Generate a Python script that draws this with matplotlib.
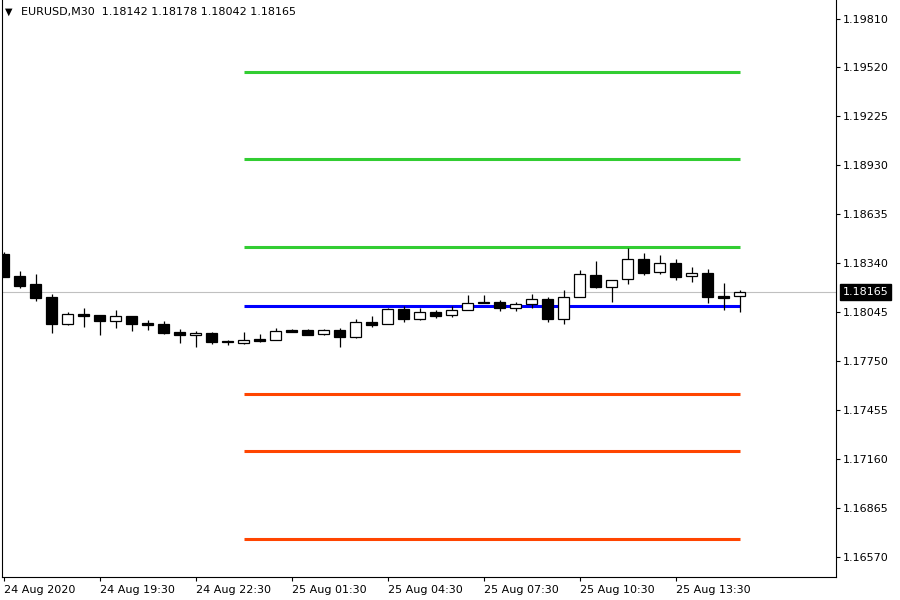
import matplotlib
matplotlib.use('Agg')
import matplotlib.pyplot as plt
import numpy as np

# EURUSD M30 bars, 24 Aug 2020 16:30 onward
opens = [1.18394, 1.18262, 1.18213, 1.18135, 1.17973, 1.18033, 1.18027, 1.17991,
         1.18021, 1.17979, 1.17973, 1.17924, 1.17906, 1.17918, 1.17870, 1.17861,
         1.17882, 1.17878, 1.17936, 1.17936, 1.17912, 1.17936, 1.17896, 1.17985,
         1.17971, 1.18061, 1.18004, 1.18047, 1.18025, 1.18055, 1.18099, 1.18103,
         1.18067, 1.18095, 1.18123, 1.18001, 1.18133, 1.18268, 1.18198, 1.18242,
         1.18362, 1.18287, 1.18338, 1.18260, 1.18278, 1.18141, 1.18142]
highs = [1.18406, 1.18292, 1.18274, 1.18153, 1.18045, 1.18069, 1.18027, 1.18057,
         1.18021, 1.17997, 1.17991, 1.17942, 1.17930, 1.17924, 1.17876, 1.17924,
         1.17912, 1.17947, 1.17944, 1.17941, 1.17944, 1.17947, 1.18003, 1.18021,
         1.18069, 1.18081, 1.18071, 1.18057, 1.18081, 1.18147, 1.18147, 1.18117,
         1.18103, 1.18151, 1.18135, 1.18177, 1.18298, 1.18352, 1.18236, 1.18430,
         1.18400, 1.18388, 1.18364, 1.18314, 1.18302, 1.18219, 1.18178]
lows = [1.18256, 1.18189, 1.18111, 1.17918, 1.17967, 1.17955, 1.17906, 1.17948,
        1.17930, 1.17936, 1.17912, 1.17858, 1.17834, 1.17852, 1.17846, 1.17852,
        1.17864, 1.17876, 1.17923, 1.17905, 1.17906, 1.17836, 1.17888, 1.17956,
        1.17971, 1.17985, 1.17997, 1.18010, 1.18017, 1.18055, 1.18099, 1.18053,
        1.18053, 1.18067, 1.17986, 1.17974, 1.18133, 1.18191, 1.18107, 1.18212,
        1.18269, 1.18275, 1.18239, 1.18227, 1.18101, 1.18059, 1.18042]
closes = [1.18256, 1.18201, 1.18129, 1.17973, 1.18033, 1.18021, 1.17991, 1.18021,
          1.17973, 1.17967, 1.17918, 1.17906, 1.17918, 1.17864, 1.17864, 1.17876,
          1.17870, 1.17930, 1.17926, 1.17908, 1.17936, 1.17896, 1.17983, 1.17968,
          1.18061, 1.18004, 1.18045, 1.18023, 1.18055, 1.18101, 1.18107, 1.18067,
          1.18095, 1.18121, 1.18001, 1.18133, 1.18272, 1.18197, 1.18236, 1.18362,
          1.18281, 1.18338, 1.18257, 1.18278, 1.18137, 1.18131, 1.18165]

# daily pivot levels drawn from 25 Aug 00:00
resistance = [1.18436, 1.18966, 1.19490]
pivot = 1.18081
support = [1.17551, 1.17208, 1.16678]
level_start, level_end = 15, 46

price_ticks = [1.16570, 1.16865, 1.17160, 1.17455, 1.17750, 1.18045,
               1.18340, 1.18635, 1.18930, 1.19225, 1.19520, 1.19810]
time_tick_bars = [0, 6, 12, 18, 24, 30, 36, 42]
time_labels = ['24 Aug 2020', '24 Aug 19:30', '24 Aug 22:30', '25 Aug 01:30',
               '25 Aug 04:30', '25 Aug 07:30', '25 Aug 10:30', '25 Aug 13:30']
last_price = 1.18165

fig = plt.figure(figsize=(9, 6), dpi=100, facecolor='white')
ax = fig.add_axes([2 / 900, 1 - 577 / 600, 834 / 900, 577 / 600])

o = np.array(opens)
h = np.array(highs)
l = np.array(lows)
c = np.array(closes)
x = np.arange(len(o))

# level lines
for lvl in resistance:
    ax.hlines(lvl, level_start, level_end, colors='#32CD32', linewidth=2.2, zorder=2)
for lvl in support:
    ax.hlines(lvl, level_start, level_end, colors='#FF4500', linewidth=2.2, zorder=2)
ax.hlines(pivot, level_start, level_end, colors='#0000FF', linewidth=2.2, zorder=2)

# current price line
ax.axhline(last_price, color='#C0C0C0', linewidth=0.8, zorder=1)

# candles
ax.vlines(x, l, h, colors='black', linewidth=0.9, zorder=3)
bull = c >= o
body_bottom = np.minimum(o, c)
body_height = np.maximum(np.abs(c - o), 0.000012)
ax.bar(x, body_height, bottom=body_bottom, width=0.66,
       color=np.where(bull, 'white', 'black'), edgecolor='black',
       linewidth=0.9, zorder=4)

# price axis on the right
ax.set_ylim(1.164495, 1.19923)
ax.set_xlim(-0.094, 52.03)
ax.yaxis.tick_right()
ax.set_yticks(price_ticks)
ax.set_yticklabels([f'{p:.5f}' for p in price_ticks])
ax.set_xticks(time_tick_bars)
ax.set_xticklabels(time_labels, ha='left')
ax.tick_params(axis='both', direction='out', length=3, width=0.8,
               labelsize=8, colors='black', pad=2)
ax.tick_params(axis='x', pad=3)
for sp in ax.spines.values():
    sp.set_color('black')
    sp.set_linewidth(0.8)
ax.spines['top'].set_visible(False)

# last price tag
ax.annotate(f'{last_price:.5f}', xy=(1.0, last_price), xycoords=('axes fraction', 'data'),
            xytext=(5, 0), textcoords='offset points', fontsize=8, color='white',
            va='center', ha='left',
            bbox=dict(boxstyle='square,pad=0.25', facecolor='black', edgecolor='black'))

# header
fig.text(5 / 900, 1 - 12 / 600, '\u25BC', fontsize=7, va='center', ha='left', color='black')
fig.text(21 / 900, 1 - 12 / 600, 'EURUSD,M30  1.18142 1.18178 1.18042 1.18165',
         fontsize=8, va='center', ha='left', color='black')

fig.savefig('out.png', dpi=100, facecolor='white')
